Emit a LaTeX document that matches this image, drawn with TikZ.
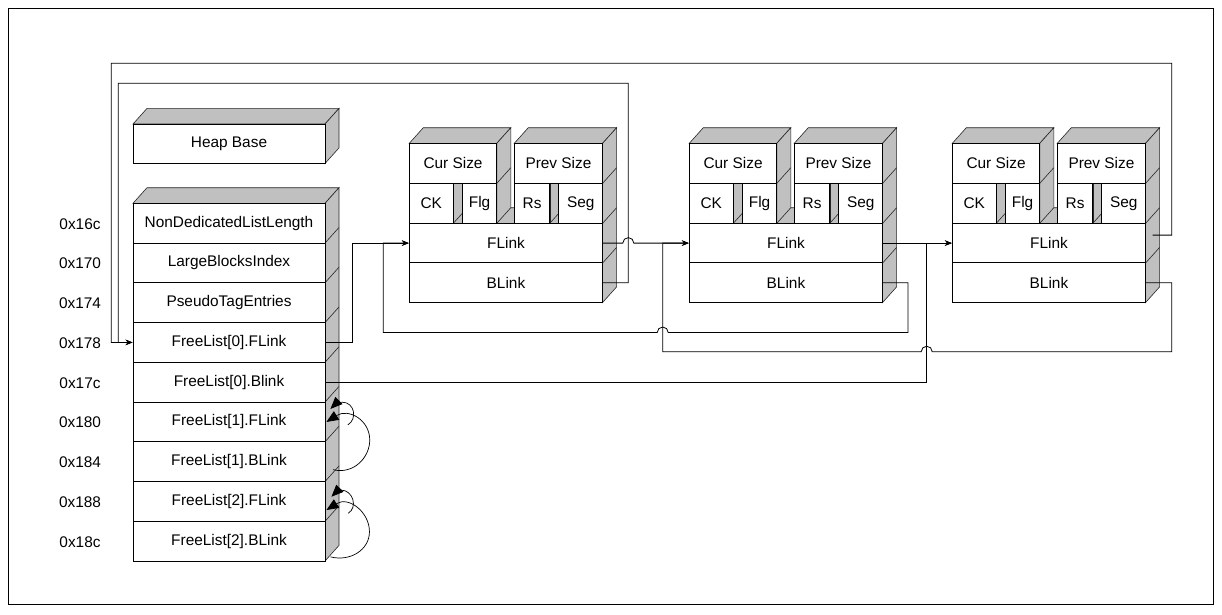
\documentclass[tikz,border=0pt]{standalone}
\usepackage{fontspec}
\setmainfont{Liberation Sans}
\usetikzlibrary{arrows.meta,calc}
\definecolor{sidegray}{RGB}{192,192,192}
% one free chunk: #1 name prefix, #2 left x
\newcommand{\heapchunk}[2]{%
  \begin{scope}[shift={(#2,0)}]
    \filldraw[face] (0,143.3)--(14,127.7)--(101.5,127.7)--(87.5,143.3)--cycle;
    \filldraw[face] (105,143.3)--(119,127.7)--(207.3,127.7)--(193.3,143.3)--cycle;
    \filldraw[face] (87.5,143.3)--(101.5,127.7)--(101.5,207.7)--(105,207.7)--(105,223.3)--(87.5,223.3)--cycle;
    \filldraw[face] (193.3,143.3)--(207.3,127.7)--(207.3,286.9)--(193.3,302.5)--cycle;
    \filldraw[face] (44,183.3) rectangle (53,223.3);
    \filldraw[face] (140.5,183.3) rectangle (149.5,223.3);
    \draw[edge] (87.5,183.3)--++(14,-15.6) (87.5,223.3)--++(14,-15.6);
    \foreach \y in {183.3,223.3,263} \draw[edge] (193.3,\y)--++(14,-15.6);
    \draw[edge] (44,223.3)--++(9,-10) (140.5,223.3)--++(9,-10);
    \node[cell,minimum width=87.5pt] (#1cs) at (43.75,163.3) {Cur Size};
    \node[cell,minimum width=88.3pt] (#1ps) at (149.15,163.3) {Prev Size};
    \node[cell,minimum width=44pt] (#1ck) at (22,203.3) {CK};
    \node[cell,minimum width=34.5pt] (#1fg) at (70.25,203.3) {Flg};
    \node[cell,minimum width=35.5pt] (#1rs) at (122.75,203.3) {Rs};
    \node[cell,minimum width=43.8pt] (#1sg) at (171.4,203.3) {Seg};
    \node[cell,minimum width=193.3pt] (#1f) at (96.65,243.1) {FLink};
    \node[cell,minimum width=193.3pt] (#1b) at (96.65,282.8) {BLink};
  \end{scope}}

\begin{document}
\begin{tikzpicture}[x=1pt,y=-1pt,font=\fontsize{15.4}{18}\selectfont,
    face/.style={fill=sidegray,draw=black!85,line width=0.6pt},
    edge/.style={draw=black!85,line width=0.6pt},
    cell/.style={draw,fill=white,line width=0.9pt,inner sep=0pt,minimum height=39.8pt},
    link/.style={-{Stealth[length=7pt,width=5.5pt]},line width=0.8pt},
    selfarrow/.style={-{Triangle[length=12pt,width=10pt]},line width=0.7pt}]
    \useasboundingbox (0,0) rectangle (1222,615);
    \draw[line width=1pt] (8.3,9) rectangle (1213.3,604);
    % heap base
    \filldraw[face] (133,124)--(147,108.4)--(339,108.4)--(325,124)--cycle;
    \filldraw[face] (325,124)--(339,108.4)--(339,147.9)--(325,163.5)--cycle;
    \node[cell,minimum width=192pt,minimum height=39.5pt] (hb) at (229,143.75) {Heap Base};
    % heap header fields
    \filldraw[face] (133,203.3)--(147,187.7)--(339,187.7)--(325,203.3)--cycle;
    \filldraw[face] (325,203.3)--(339,187.7)--(339,545.4)--(325,561)--cycle;
    \foreach \i in {1,...,8} \draw[edge] (325,{203.3+39.75*\i})--++(14,-15.6);
    \foreach \lbl/\adr [count=\i] in {NonDedicatedListLength/0x16c,LargeBlocksIndex/0x170,
        PseudoTagEntries/0x174,FreeList[0].FLink/0x178,FreeList[0].Blink/0x17c,
        FreeList[1].FLink/0x180,FreeList[1].BLink/0x184,FreeList[2].FLink/0x188,
        FreeList[2].BLink/0x18c} {
        \node[cell,minimum width=192pt,minimum height=39.75pt] (r\i) at (229,{203.3+39.75*(\i-0.5)}) {\lbl};
        \node (a\i) at (80,{204+39.75*(\i-0.5)}) {\adr};
    }
    % free chunks
    \heapchunk{c1}{409.3}
    \heapchunk{c2}{689.3}
    \heapchunk{c3}{952.3}
    \coordinate (c3side) at ($(c3f.east)+(6.6,-8)$);
    % list links
    \draw[link] (r4.east) -- ++(26.7,0) |- (c1f.west);
    \draw[link] (c1b.east) -| (628.3,83.3) -| (118.3,342.4) -- (r4.west);
    \draw[link] (c3side) -| (1171.7,63.3) -| (111.3,342.4) -- (r4.west);
    \draw[link] (c1f.east) -- (622.8,243.1) arc[start angle=180,end angle=360,radius=5.5] -- (c2f.west);
    \draw[link] (c2b.east) -| (908,332.5) -- (668.2,332.5) arc[start angle=0,end angle=-180,radius=5.5] -| (383.3,243.1) -- (c1f.west);
    \draw[link] (c2f.east) -- (c3f.west);
    \draw[link] (c3b.east) -| (1171.7,351.7) -- (932.2,351.7) arc[start angle=0,end angle=-180,radius=5.5] -| (662.7,243.1) -- (c2f.west);
    \draw[link] (r5.east) -| (926.7,243.1) -- (c3f.west);
    % empty lists point to themselves
    \draw[selfarrow] ([shift={(22.3,3)}]r6.east) .. controls +(10,-6) and +(12,0) .. ([shift={(17,-19.7)}]r6.east)
        .. controls +(-5,0) and +(4,-4) .. ([shift={(5,-13)}]r6.east);
    \draw[selfarrow] ([shift={(7.7,8)}]r7.east) .. controls +(20,5) and +(0,18) .. ([shift={(44.3,18)}]r6.east)
        .. controls +(0,-20) and +(22,-14) .. ([shift={(1,0)}]r6.east);
    \draw[selfarrow] ([shift={(22.7,11.9)}]r8.east) .. controls +(10,-6) and +(12,0) .. ([shift={(15.5,-11.4)}]r8.east)
        .. controls +(-5,0) and +(4,-4) .. ([shift={(6,-4.7)}]r8.east);
    \draw[selfarrow] ([shift={(5,15.7)}]r9.east) .. controls +(20,5) and +(0,18) .. ([shift={(44,30.3)}]r8.east)
        .. controls +(0,-20) and +(22,-14) .. ([shift={(1,8.6)}]r8.east);
\end{tikzpicture}
\end{document}
